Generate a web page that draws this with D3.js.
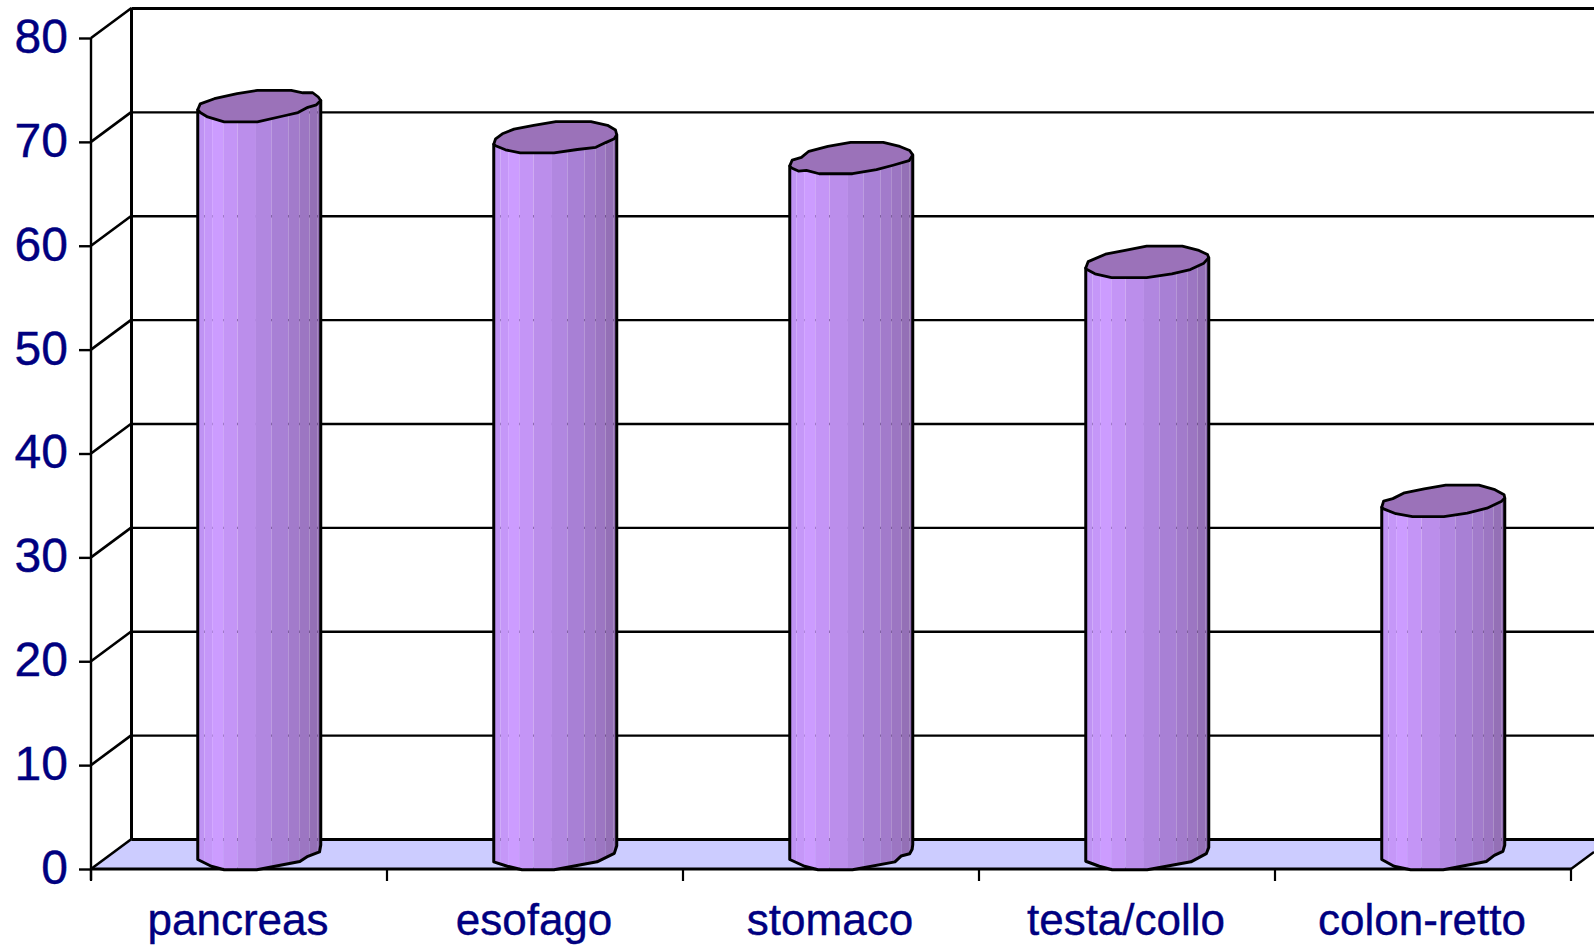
<!DOCTYPE html>
<html>
<head>
<meta charset="utf-8">
<script src="https://cdn.jsdelivr.net/npm/d3@7"></script>
<style>
  html, body { margin: 0; padding: 0; background: #fff; }
  svg { display: block; }
  text { font-family: "Liberation Sans", Arial, sans-serif; fill: #000080; stroke: #000080; stroke-width: 0.4px; }
</style>
</head>
<body>
<svg id="chart" width="1594" height="947"></svg>
<script>
// Categories and values
const categories = ["pancreas", "esofago", "stomaco", "testa/collo", "colon-retto"];
const values = [72, 69, 67, 57, 34];
const yTicks = [0, 10, 20, 30, 40, 50, 60, 70, 80];

// Faceted shading of a cylinder: facet edges as fractions of its width, and facet colours
const facetStops = [0, .05, .114, .204, .32, .47, .595, .733, .822, .904, .972, 1];
const facetColors = ["#bf93f3", "#c597f8", "#cc9cff", "#c495f6", "#bb8eeb", "#b187e0",
                     "#a880d5", "#a27bcb", "#9c76c2", "#9470b6", "#8e6bae"];

// Hand-drawn looking cap outlines in percent of the half axes, starting at the left extreme
const capPancreas = [[-100,23],[-96,-14],[-73,-47],[-36,-80],[-3,-100],[52,-100],[71,-85],[87,-85],[96,-58],[100,-36],[93,-8],[79,8],[63,41],[39,63],[-3,100],[-57,100],[-84,69],[-96,41]];
const capEsofago  = [[-100,44],[-97,10],[-86,-22],[-67,-52],[-35,-76],[1,-100],[58,-100],[85,-76],[98,-46],[100,-16],[96,10],[82,34],[66,64],[36,78],[-2,100],[-57,100],[-81,80],[-97,54]];
const capStomaco  = [[-100,50],[-96,13],[-81,-4],[-69,-43],[-38,-74],[-1,-100],[52,-100],[79,-74],[95,-48],[100,-20],[94,17],[68,46],[41,74],[2,100],[-52,100],[-73,78],[-86,83],[-97,63]];
const capTesta    = [[-100,39],[-96,-2],[-68,-49],[-36,-73],[-1,-100],[57,-100],[84,-73],[98,-47],[100,-27],[92,8],[70,49],[40,76],[-1,100],[-58,100],[-85,76],[-98,49]];
const capColon    = [[-100,41],[-97,2],[-82,-14],[-63,-51],[-31,-76],[4,-100],[58,-100],[84,-71],[99,-39],[100,-18],[95,2],[71,47],[39,78],[1,100],[-50,100],[-77,82],[-97,51]];
const capOutlines = [capPancreas, capEsofago, capStomaco, capTesta, capColon];
const capRightIndex = [9, 9, 9, 8, 9];

// Lower rims at the foot of each cylinder, left to right, same units as the caps
const rimPancreas = [[-100,35],[-78,78],[-57,100],[-4,100],[66,48],[79,15],[98,-13],[100,-57]];
const rimEsofago  = [[-100,50],[-78,78],[-54,100],[-2,100],[68,50],[96,-4],[100,-52]];
const rimStomaco  = [[-100,35],[-76,78],[-54,100],[2,100],[71,50],[81,13],[95,-2],[99,-30],[100,-60]];
const rimTesta    = [[-100,46],[-78,78],[-57,100],[0,100],[71,50],[96,-2],[100,-41]];
const rimColon    = [[-100,35],[-80,78],[-53,100],[0,100],[70,48],[83,9],[97,-17],[100,-57]];
const rimOutlines = [rimPancreas, rimEsofago, rimStomaco, rimTesta, rimColon];

// Plot frame: front plane plus the oblique offset of the back wall
const W = 1594, H = 947;
const frontLeft = 91, frontRight = 1571, frontBottom = 869, frontTop = 38;
const depthX = 40.5, depthY = -30;
const cylinderWidth = 123, capHalfHeight = 15.7;

const svg = d3.select("#chart");
const x = d3.scaleBand().domain(categories).range([frontLeft, frontRight]);
const y = d3.scaleLinear().domain([0, 80]).range([frontBottom, frontTop]);
const line = d3.line();

// Floor
svg.append("path")
  .attr("d", line([
    [frontLeft, frontBottom], [frontLeft + depthX, frontBottom + depthY],
    [W, frontBottom + depthY], [W, frontBottom - (W - frontRight) * 0.74], [frontRight, frontBottom]
  ]) + "Z")
  .attr("fill", "#ccccff");

// Gridlines across the back wall and down the side wall
const grid = svg.append("g").attr("stroke", "#000").attr("fill", "none");
yTicks.forEach(t => {
  grid.append("line")
    .attr("x1", frontLeft + depthX).attr("x2", W)
    .attr("y1", y(t) + depthY + 0.5).attr("y2", y(t) + depthY + 0.5)
    .attr("stroke-width", t === 80 || t === 0 ? 3.2 : 2.4);
  grid.append("line")
    .attr("x1", frontLeft).attr("x2", frontLeft + depthX)
    .attr("y1", y(t)).attr("y2", y(t) + depthY)
    .attr("stroke-width", 2.6);
});
grid.append("line")
  .attr("x1", frontLeft + depthX).attr("x2", frontLeft + depthX)
  .attr("y1", y(80) + depthY).attr("y2", y(0) + depthY)
  .attr("stroke-width", 3);

// Front baseline, right floor edge and the ticks between categories
grid.append("line")
  .attr("x1", frontLeft).attr("x2", frontRight)
  .attr("y1", frontBottom).attr("y2", frontBottom)
  .attr("stroke-width", 3);
grid.append("line")
  .attr("x1", frontRight).attr("x2", W)
  .attr("y1", frontBottom).attr("y2", frontBottom - (W - frontRight) * 0.74)
  .attr("stroke-width", 2.4);
const edges = categories.map(c => x(c)).concat(frontRight);
edges.forEach(e => {
  grid.append("line")
    .attr("x1", e).attr("x2", e)
    .attr("y1", frontBottom).attr("y2", frontBottom + 12)
    .attr("stroke-width", 2.2);
});

// Y axis
const yAxis = d3.axisLeft(y).tickValues(yTicks).tickSize(12).tickPadding(11);
const yG = svg.append("g").attr("transform", `translate(${frontLeft},0)`).call(yAxis);
yG.attr("font-family", null);
yG.select(".domain").attr("stroke", "#000").attr("stroke-width", 2.4).attr("d", `M0,${frontTop}V${frontBottom + 11}`);
yG.selectAll(".tick line").attr("stroke", "#000").attr("stroke-width", 2.4);
yG.selectAll("text").attr("font-size", 48).attr("dy", "0.3em");

// X axis labels
const xAxis = d3.axisBottom(x).tickSize(0).tickPadding(0);
const xG = svg.append("g").attr("transform", `translate(-1,${frontBottom})`).call(xAxis);
xG.select(".domain").remove();
xG.attr("font-family", null);
xG.selectAll("text").attr("font-size", 44).attr("y", 66).attr("dy", 0);

// Cylinders
const defs = svg.append("defs");
const bars = svg.append("g");
categories.forEach((c, i) => {
  const cx = x(c) + x.bandwidth() / 2 + depthX / 2;
  const hw = cylinderWidth / 2;
  const topY = y(values[i]) + depthY / 2;
  const baseY = y(0) + depthY / 2;
  const outline = capOutlines[i];
  const right = capRightIndex[i];
  const place = (p, cy) => [cx + p[0] / 100 * hw, cy + p[1] / 100 * capHalfHeight];

  // Side of the cylinder: down the left edge, along the foot rim, up the right edge
  const body = [place(outline[0], topY)]
    .concat(rimOutlines[i].map(p => place(p, baseY)))
    .concat([place(outline[right], topY)]);
  const bodyPath = line(body) + "Z";

  const clipId = "body-" + i;
  defs.append("clipPath").attr("id", clipId).append("path").attr("d", bodyPath);

  const g = bars.append("g");
  const sx = d3.scaleLinear().domain([0, 1]).range([cx - hw, cx + hw]);
  g.append("g").attr("clip-path", `url(#${clipId})`)
    .selectAll("rect").data(facetColors).join("rect")
    .attr("x", (d, k) => sx(facetStops[k]) + 0.4)
    .attr("width", (d, k) => sx(facetStops[k + 1]) - sx(facetStops[k]))
    .attr("y", topY - capHalfHeight)
    .attr("height", baseY - topY + 2 * capHalfHeight)
    .attr("fill", d => d);
  g.append("path").attr("d", bodyPath)
    .attr("fill", "none").attr("stroke", "#000").attr("stroke-width", 3).attr("stroke-linejoin", "round");
  g.append("path").attr("d", line(outline.map(p => place(p, topY))) + "Z")
    .attr("fill", "#9b72b9").attr("stroke", "#000").attr("stroke-width", 2.8).attr("stroke-linejoin", "round");
});
</script>
</body>
</html>
